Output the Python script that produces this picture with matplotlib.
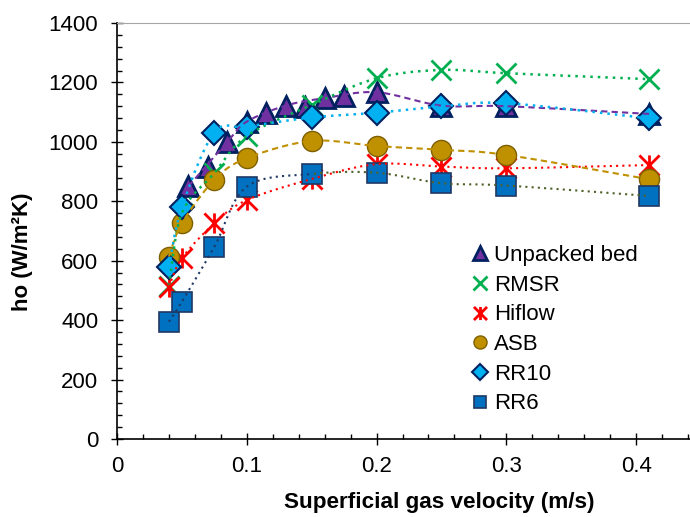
import numpy as np
import matplotlib
matplotlib.use('Agg')
import matplotlib.pyplot as plt
from matplotlib.path import Path
from matplotlib.ticker import MultipleLocator, FuncFormatter

plt.rcParams['font.family'] = ['Liberation Sans', 'DejaVu Sans']

# superficial gas velocity (m/s)
gas_vel = [0.04, 0.05, 0.075, 0.1, 0.15, 0.2, 0.25, 0.3, 0.41]
unpacked_vel = [0.055, 0.07, 0.085, 0.1, 0.115, 0.13, 0.145, 0.16, 0.175, 0.2, 0.25, 0.3, 0.41]

# ho (W/m2K)
unpacked_ho = [850, 915, 1000, 1068, 1097, 1122, 1118, 1147, 1153, 1167, 1122, 1120, 1094]
rmsr_ho = [515, 760, 895, 1020, 1124, 1214, 1242, 1231, 1211]
hiflow_ho = [513, 608, 726, 804, 875, 925, 917, 911, 922]
asb_ho = [614, 726, 872, 945, 1003, 986, 973, 956, 874]
rr10_ho = [580, 780, 1031, 1051, 1082, 1098, 1119, 1130, 1079]
rr6_ho = [395, 462, 647, 849, 892, 896, 861, 853, 818]

# points of the unpacked bed used for its trend curve
unpacked_trend_idx = [0, 2, 3, 5, 7, 9, 10, 11, 12]

XMAX, YMAX = 0.45, 1400
AX_W, AX_H = 584, 416


def smooth(xs, ys, n=30):
    # excel style smoothed line (bezier through the points), worked out in pixel units
    sx, sy = AX_W / XMAX, AX_H / YMAX
    p = np.column_stack([np.asarray(xs) * sx, np.asarray(ys) * sy])
    p = np.vstack([p[0], p, p[-1]])
    t = np.linspace(0, 1, n)[:, None]
    out = []
    for i in range(1, len(p) - 2):
        p0, p1, p2, p3 = p[i - 1], p[i], p[i + 1], p[i + 2]
        c1 = p1 + (p2 - p0) / 6
        c2 = p2 - (p3 - p1) / 6
        out.append((1 - t) ** 3 * p1 + 3 * (1 - t) ** 2 * t * c1 + 3 * (1 - t) * t ** 2 * c2 + t ** 3 * p2)
    out = np.vstack(out)
    return out[:, 0] / sx, out[:, 1] / sy


star = Path([(-1, -1), (1, 1), (-1, 1), (1, -1), (0, -1), (0, 1)],
            [Path.MOVETO, Path.LINETO] * 3)

fig = plt.figure(figsize=(6.9, 5.17), dpi=100)
ax = fig.add_axes([117 / 690, 78 / 517, AX_W / 690, AX_H / 517])

dotted = (0, (1, 2))
dashed = (0, (3, 2))

# markers
ax.plot(unpacked_vel, unpacked_ho, ls='none', marker='^', ms=14.5, mfc='#7030a0', mec='#002060', mew=2,
        label='Unpacked bed')
ax.plot(gas_vel, rmsr_ho, ls='none', marker='x', ms=15, mec='#00b050', mew=2, label='RMSR')
ax.plot(gas_vel, hiflow_ho, ls='none', marker=star, ms=14.5, mec='#ff0000', mew=2, label='Hiflow')
ax.plot(gas_vel, asb_ho, ls='none', marker='o', ms=14.5, mfc='#bf9000', mec='#7f6000', mew=1, label='ASB')
ax.plot(gas_vel, rr10_ho, ls='none', marker='D', ms=12.5, mfc='#00b0f0', mec='#002060', mew=1.5, label='RR10')
ax.plot(gas_vel, rr6_ho, ls='none', marker='s', ms=14, mfc='#0070c0', mec='#1f3864', mew=1.2, label='RR6')

# trend curves, drawn over the markers
ux = [unpacked_vel[i] for i in unpacked_trend_idx]
uy = [unpacked_ho[i] for i in unpacked_trend_idx]
cx, cy = smooth(ux, uy)
ax.plot(cx, cy, color='#7030a0', lw=1.5, ls=dashed, zorder=5)
cx, cy = smooth(gas_vel, rmsr_ho)
ax.plot(cx, cy, color='#00b050', lw=1.8, ls=dotted, zorder=5)
cx, cy = smooth(gas_vel, hiflow_ho)
ax.plot(cx, cy, color='#ff0000', lw=1.5, ls=dotted, zorder=5)
cx, cy = smooth(gas_vel, asb_ho)
ax.plot(cx, cy, color='#bf9000', lw=1.5, ls=dashed, zorder=5)
cx, cy = smooth(gas_vel, rr10_ho)
ax.plot(cx, cy, color='#00b0f0', lw=1.8, ls=dotted, zorder=5)
cx, cy = smooth(gas_vel, rr6_ho)
cut = cx <= 0.15
ax.plot(cx[cut], cy[cut], color='#1f3864', lw=1.5, ls=dotted, zorder=5)
ax.plot(cx[~cut], cy[~cut], color='#4f6228', lw=1.5, ls=dotted, zorder=5)

ax.set_xlim(0, XMAX)
ax.set_ylim(0, YMAX)
ax.xaxis.set_major_locator(MultipleLocator(0.1))
ax.xaxis.set_minor_locator(MultipleLocator(0.02))
ax.yaxis.set_major_locator(MultipleLocator(200))
ax.yaxis.set_minor_locator(MultipleLocator(40))
ax.xaxis.set_major_formatter(FuncFormatter(lambda v, p: f'{v:g}'))

ax.tick_params(which='major', direction='inout', length=8, width=1, labelsize=16, colors='black')
ax.tick_params(axis='x', which='major', pad=8)
ax.tick_params(axis='y', which='major', pad=9.5)
ax.tick_params(which='minor', direction='in', length=3.6, width=1)

ax.spines['right'].set_visible(False)
ax.spines['top'].set_color('#a6a6a6')
ax.spines['left'].set_linewidth(1.2)
ax.spines['bottom'].set_linewidth(1.2)

ax.set_xlabel('Superficial gas velocity (m/s)', fontsize=16.2, fontweight='bold')
ax.set_ylabel('ho (W/m²K)', fontsize=16, fontweight='bold')
ax.xaxis.set_label_coords(0.552, -0.128)
ax.yaxis.set_label_coords(-0.143, 0.45)

ax.legend(loc='upper left', bbox_to_anchor=(344 / AX_W, (439 - 234) / AX_H), frameon=False, fontsize=16,
          markerscale=0.65, handlelength=0.7, handletextpad=0.3, labelspacing=0.39, borderpad=0)

fig.savefig('out.png', dpi=100)
